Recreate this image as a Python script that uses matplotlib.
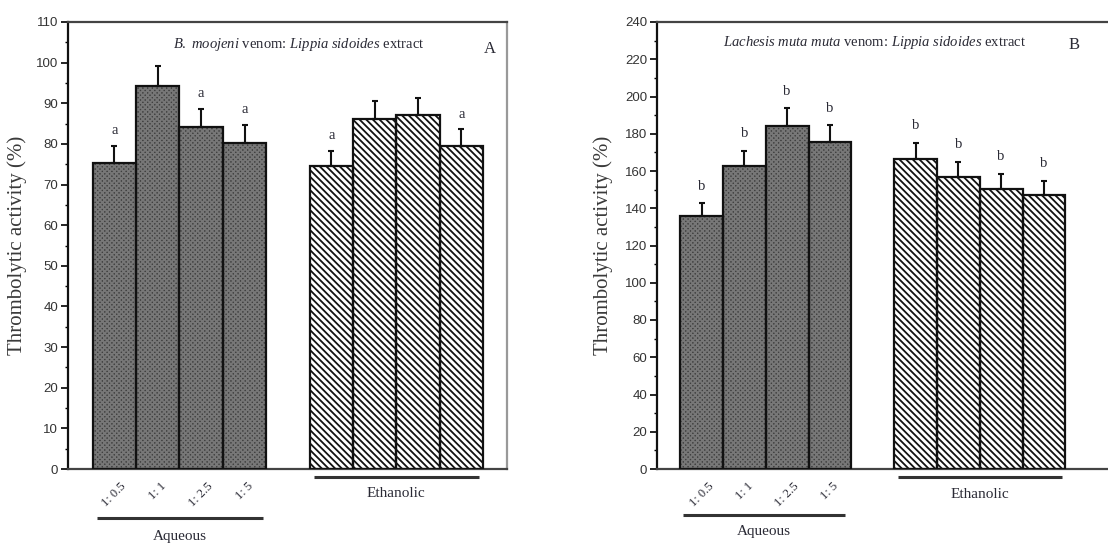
import numpy as np
import matplotlib
matplotlib.use("Agg")
import matplotlib.pyplot as plt

# data
ratios = ["1: 0.5", "1: 1", "1: 2.5", "1: 5"]

a_aqueous = [75.4, 94.2, 84.2, 80.3]
a_aqueous_err = [4.1, 5.0, 4.4, 4.3]
a_ethanolic = [74.6, 86.1, 87.1, 79.6]
a_ethanolic_err = [3.7, 4.5, 4.3, 4.0]
a_aqueous_marks = ["a", "", "a", "a"]
a_ethanolic_marks = ["a", "", "", "a"]

b_aqueous = [135.8, 162.9, 184.2, 175.4]
b_aqueous_err = [6.8, 8.0, 9.4, 9.1]
b_ethanolic = [166.6, 157.0, 150.5, 147.1]
b_ethanolic_err = [8.6, 8.0, 7.9, 7.7]
b_aqueous_marks = ["b", "b", "b", "b"]
b_ethanolic_marks = ["b", "b", "b", "b"]

plt.rcParams["mathtext.fontset"] = "custom"
plt.rcParams["mathtext.rm"] = "Liberation Serif"
plt.rcParams["mathtext.it"] = "Liberation Serif:italic"
plt.rcParams["hatch.linewidth"] = 1.3

SERIF = "Liberation Serif"
SANS = "Liberation Sans"
TXT = "#2a2a35"

fig = plt.figure(figsize=(11.08, 5.44), dpi=100)
W, H = 1108., 544.


def add_axes(left, right, top, bottom):
    return fig.add_axes([left / W, (H - bottom) / H, (right - left) / W, (bottom - top) / H])


def draw_panel(ax, aq, aq_err, eth, eth_err, aq_marks, eth_marks, ymax, major, minor, xlim,
               title, letter, title_pos, letter_pos, mark_off, aq_line, eth_line):
    x_aq = np.arange(len(aq))
    x_eth = np.arange(len(eth)) + len(aq) + 1

    # aqueous: dark checker fill
    ax.bar(x_aq, aq, width=1.0, color="#404040", hatch="xxxxxxx", edgecolor="#777777", lw=0, zorder=2)
    ax.bar(x_aq, aq, width=1.0, fill=False, edgecolor="#111111", lw=1.6, zorder=3)
    # ethanolic: diagonal stripes
    ax.bar(x_eth, eth, width=1.0, color="white", hatch="\\\\\\\\\\", edgecolor="#111111", lw=0, zorder=2)
    ax.bar(x_eth, eth, width=1.0, fill=False, edgecolor="#111111", lw=1.6, zorder=3)

    for xs, ys, es, ms in [(x_aq, aq, aq_err, aq_marks), (x_eth, eth, eth_err, eth_marks)]:
        ax.errorbar(xs, ys, yerr=[np.zeros(len(ys)), es], fmt="none", ecolor="#111111",
                    elinewidth=1.5, capsize=2.5, capthick=1.5, zorder=4)
        for xi, yi, ei, m in zip(xs, ys, es, ms):
            if m:
                ax.annotate(m, (xi, yi + ei), xytext=(0, mark_off), textcoords="offset points",
                            ha="center", va="center", fontsize=10.5, family=SERIF, color=TXT)

    ax.set_ylim(0, ymax)
    ax.set_xlim(*xlim)
    ax.set_yticks(np.arange(0, ymax + 1, major))
    ax.set_yticks(np.arange(0, ymax + 1, minor), minor=True)
    ax.tick_params(axis="y", which="major", direction="out", length=5, width=1.2, labelsize=9.5,
                   labelcolor="#333333", pad=2)
    ax.tick_params(axis="y", which="minor", direction="out", length=2.5, width=1.0)
    for lab in ax.get_yticklabels():
        lab.set_family(SANS)

    ax.set_xticks(x_aq)
    ax.set_xticklabels(ratios, rotation=45, ha="center", va="top", fontsize=9, family=SERIF, color=TXT)
    ax.tick_params(axis="x", length=0, pad=8)

    for side in ["left", "top", "bottom", "right"]:
        ax.spines[side].set_linewidth(1.6)
    ax.spines["left"].set_color("#111111")
    ax.spines["top"].set_color("#444444")
    ax.spines["bottom"].set_color("#444444")
    ax.spines["right"].set_color("#999999")

    ax.set_ylabel("Thrombolytic activity (%)", family=SERIF, fontsize=15, color="#3a3a3a")
    ax.yaxis.set_label_coords(-0.093, 0.5)

    ax.text(title_pos[0], title_pos[1], title, transform=ax.transAxes, ha="center", va="center",
            fontsize=10.5, family=SERIF, color=TXT)
    ax.text(letter_pos[0], letter_pos[1], letter, transform=ax.transAxes, ha="center", va="center",
            fontsize=12, family=SERIF, color=TXT)

    # group underlines and labels
    tr = ax.get_xaxis_transform()
    for (x0, x1, yl, yt, name) in [aq_line + ("Aqueous",), eth_line + ("Ethanolic",)]:
        ax.plot([x0, x1], [yl, yl], transform=tr, color="#333333", lw=2.2, clip_on=False,
                solid_capstyle="butt")
        ax.text((x0 + x1) / 2, yt, name, transform=tr, ha="center", va="center",
                fontsize=11, family=SERIF, color=TXT)


axA = add_axes(68, 507, 22, 469)
draw_panel(axA, a_aqueous, a_aqueous_err, a_ethanolic, a_ethanolic_err,
           a_aqueous_marks, a_ethanolic_marks, 110, 10, 5, (-1.07, 9.05),
           r"$\mathit{B.\ moojeni}$ venom: $\mathit{Lippia\ sidoides}$ extract", "A",
           (0.526, 0.949), (0.961, 0.94), 11,
           (-0.40, 3.42, -0.110, -0.152), (4.6, 8.4, -0.018, -0.054))

axB = add_axes(657, 1130, 22, 469)
draw_panel(axB, b_aqueous, b_aqueous_err, b_ethanolic, b_ethanolic_err,
           b_aqueous_marks, b_ethanolic_marks, 240, 20, 10, (-1.04, 10.01),
           r"$\mathit{Lachesis\ muta\ muta}$ venom: $\mathit{Lippia\ sidoides}$ extract", "B",
           (0.459, 0.955), (0.882, 0.949), 12.5,
           (-0.43, 3.35, -0.103, -0.139), (4.59, 8.43, -0.018, -0.056))

fig.savefig("out.png", dpi=100)
